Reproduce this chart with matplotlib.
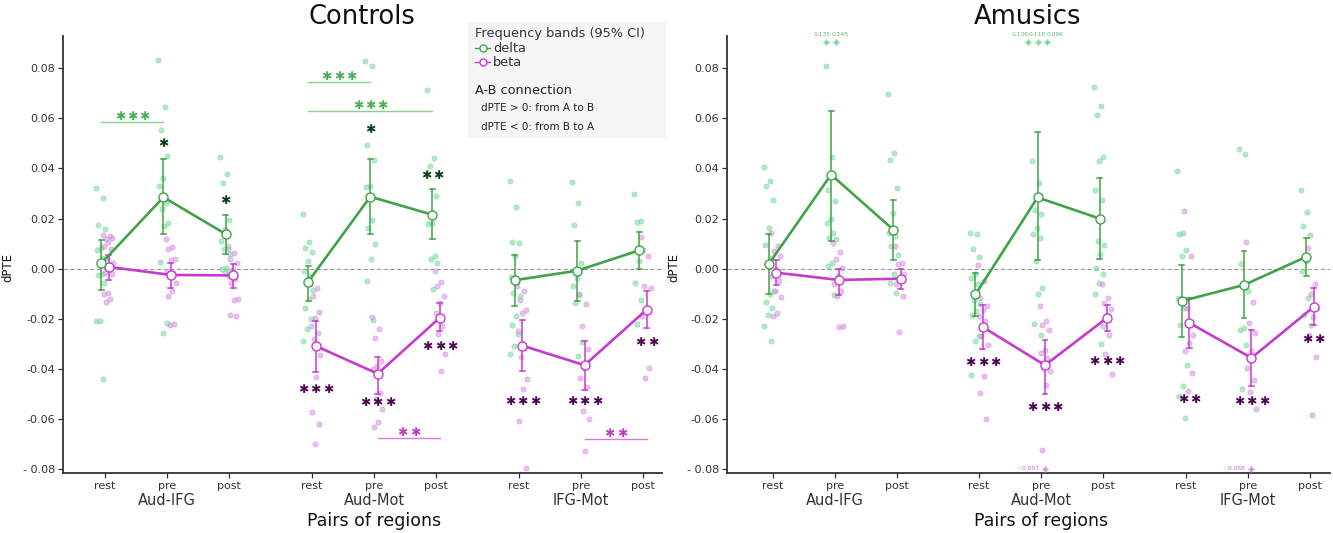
import matplotlib
matplotlib.use("Agg")
import matplotlib.pyplot as plt
from matplotlib.lines import Line2D
from matplotlib.patches import Rectangle

# ---------------- data ----------------
pairs = ["Aud-IFG", "Aud-Mot", "IFG-Mot"]
conditions = ["rest", "pre", "post"]
panel_titles = ["Controls", "Amusics"]
ytick_values = [-0.08, -0.06, -0.04, -0.02, 0.00, 0.02, 0.04, 0.06, 0.08]
ytick_labels = ["- 0.08", "-0.06", "-0.04", "-0.02", "0.00", "0.02", "0.04", "0.06", "0.08"]

# Controls: means and 95% CI (order: Aud-IFG rest/pre/post, Aud-Mot ..., IFG-Mot ...)
ctrl_delta_mean = [0.0021, 0.0285, 0.0138, -0.0053, 0.0287, 0.0215, -0.0046, -0.0008, 0.0073]
ctrl_delta_lo = [-0.0085, 0.0139, 0.0058, -0.0129, 0.0139, 0.0117, -0.0150, -0.0127, 0.0000]
ctrl_delta_hi = [0.0115, 0.0438, 0.0215, 0.0011, 0.0438, 0.0318, 0.0054, 0.0111, 0.0145]
ctrl_beta_mean = [0.0007, -0.0025, -0.0027, -0.0308, -0.0419, -0.0195, -0.0307, -0.0385, -0.0163]
ctrl_beta_lo = [-0.0045, -0.0076, -0.0076, -0.0414, -0.0498, -0.0248, -0.0409, -0.0482, -0.0236]
ctrl_beta_hi = [0.0053, 0.0024, 0.0020, -0.0208, -0.0352, -0.0135, -0.0203, -0.0287, -0.0090]

ctrl_delta_pts = [
    [0.032, 0.028, 0.0176, 0.016, 0.0084, 0.0073, 0.0044, 0.0024, 0.0005, -0.0023, -0.0025, -0.0058, -0.0208, -0.0209, -0.044],
    [0.0833, 0.0644, 0.0555, 0.0449, 0.0362, 0.0329, 0.026, 0.0236, 0.0183, 0.017, 0.0027, -0.0215, -0.0255],
    [0.0446, 0.0376, 0.0342, 0.0196, 0.0157, 0.011, 0.009, 0.0077, 0.0057, 0.0004, -0.0002, -0.001, -0.0016],
    [0.022, 0.0106, 0.0084, 0.0066, 0.003, -0.001, -0.003, -0.0056, -0.0086, -0.012, -0.0155, -0.0202, -0.0239, -0.0288],
    [0.083, 0.0807, 0.0492, 0.0435, 0.0329, 0.0325, 0.0196, 0.0163, 0.0097, 0.004, -0.0049, -0.0204],
    [0.0711, 0.0443, 0.0409, 0.029, 0.0183, 0.0177, 0.005, 0.004, 0.0024, -0.008],
    [0.035, 0.0245, 0.0106, 0.0104, 0.0052, -0.0035, -0.0055, -0.0097, -0.011, -0.019, -0.0226, -0.0262, -0.0309, -0.0342],
    [0.0345, 0.0261, 0.0173, 0.0023, -0.0037, -0.007, -0.0104, -0.0137, -0.0293, -0.0349],
    [0.0299, 0.0191, 0.0188, 0.0075, 0.003, -0.0057, -0.0123, -0.0219],
]
ctrl_beta_pts = [
    [0.0134, 0.013, 0.0117, 0.0121, 0.0106, 0.009, 0.0077, 0.0044, 0.0024, 0.0004, -0.0016, -0.0023, -0.0096, -0.0102, -0.012, -0.0133],
    [0.012, 0.0088, 0.008, 0.0037, 0.0035, -0.0009, -0.0016, -0.0023, -0.0058, -0.0089, -0.0109, -0.0222, -0.0224],
    [0.008, 0.0064, 0.004, 0.0021, -0.0003, -0.003, -0.0042, -0.0056, -0.0122, -0.0125, -0.0186, -0.0188],
    [-0.0062, -0.0076, -0.0109, -0.0173, -0.0195, -0.0228, -0.0257, -0.0281, -0.0345, -0.0434, -0.0573, -0.062, -0.0699],
    [-0.0191, -0.0242, -0.0275, -0.0368, -0.0387, -0.04, -0.0494, -0.052, -0.056, -0.0613, -0.0633],
    [-0.0009, -0.0053, -0.0069, -0.0111, -0.0135, -0.0175, -0.0228, -0.026, -0.0342, -0.0407],
    [-0.0068, -0.009, -0.0126, -0.0163, -0.0176, -0.0249, -0.0316, -0.0352, -0.0439, -0.0479, -0.0608, -0.0797],
    [-0.0101, -0.0139, -0.023, -0.0322, -0.0395, -0.0435, -0.0471, -0.0568, -0.0601, -0.0727],
    [0.0125, 0.0049, -0.007, -0.0077, -0.0161, -0.019, -0.0395, -0.0435],
]

# Amusics
amus_delta_mean = [0.0020, 0.0375, 0.0156, -0.0103, 0.0284, 0.0200, -0.0129, -0.0065, 0.0047]
amus_delta_lo = [-0.0103, 0.0110, 0.0033, -0.0189, 0.0033, 0.0037, -0.0272, -0.0196, -0.0029]
amus_delta_hi = [0.0140, 0.0630, 0.0273, -0.0016, 0.0544, 0.0361, 0.0013, 0.0071, 0.0124]
amus_beta_mean = [-0.0016, -0.0045, -0.0040, -0.0233, -0.0385, -0.0196, -0.0216, -0.0356, -0.0153]
amus_beta_lo = [-0.0065, -0.0105, -0.0083, -0.0320, -0.0500, -0.0247, -0.0316, -0.0469, -0.0225]
amus_beta_hi = [0.0033, 0.0000, 0.0000, -0.0145, -0.0283, -0.0145, -0.0116, -0.0243, -0.0079]

amus_delta_pts = [
    [0.0404, 0.035, 0.033, 0.0273, 0.0164, 0.0095, 0.0044, 0.0017, -0.0089, -0.0103, -0.0133, -0.0156, -0.0183, -0.0229, -0.0287],
    [0.0807, 0.0447, 0.0313, 0.027, 0.0197, 0.0184, 0.0144, 0.0124, 0.0117, 0.0024, 0.0011, -0.0105],
    [0.0695, 0.0461, 0.0433, 0.032, 0.0224, 0.0144, 0.0131, 0.0091, 0.0053, -0.0023, -0.0056, -0.0096],
    [0.0144, 0.0137, 0.008, 0.0047, -0.0023, -0.0036, -0.0063, -0.0123, -0.014, -0.0169, -0.0183, -0.0269, -0.0287, -0.0423],
    [0.043, 0.034, 0.0233, 0.022, 0.0161, 0.014, 0.0121, 0.0031, -0.0076, -0.01, -0.022, -0.0263],
    [0.0724, 0.065, 0.0613, 0.0444, 0.0431, 0.0313, 0.0273, 0.0111, 0.0095, 0.0057, 0.0001, -0.0023, -0.0056, -0.0103, -0.03],
    [0.0388, 0.0144, 0.0137, 0.0075, 0.0051, -0.0116, -0.0156, -0.0223, -0.0385, -0.0467, -0.0507, -0.0596],
    [0.0478, 0.0456, 0.0017, -0.0089, -0.0236, -0.0243, -0.0303, -0.0479],
    [0.0315, 0.0228, 0.0171, 0.0135, 0.0031, -0.0009, -0.0116, -0.0185, -0.0223],
]
amus_beta_pts = [
    [0.0144, 0.0091, 0.0071, 0.0051, -0.0003, -0.0029, -0.0049, -0.0089, -0.0113, -0.0176, -0.0189],
    [0.0104, 0.0067, 0.004, 0.0004, -0.0029, -0.0063, -0.009, -0.011, -0.0229, -0.0233],
    [0.0091, 0.0024, 0.0017, -0.0023, -0.0043, -0.0063, -0.0109, -0.0253],
    [0.0015, -0.0049, -0.0116, -0.0149, -0.0163, -0.0189, -0.0209, -0.0269, -0.0303, -0.0429, -0.0496, -0.0599],
    [-0.0149, -0.0209, -0.0225, -0.0243, -0.0323, -0.0336, -0.0356, -0.0396, -0.0409, -0.0463, -0.0723],
    [-0.0063, -0.0116, -0.0136, -0.0159, -0.0183, -0.0229, -0.0265, -0.034, -0.042],
    [0.0231, 0.0051, -0.0156, -0.0263, -0.0296, -0.0329, -0.0416, -0.0487],
    [0.0108, -0.0132, -0.0216, -0.0256, -0.0329, -0.0396, -0.0443, -0.049, -0.056],
    [0.0084, -0.0063, -0.0103, -0.0156, -0.0193, -0.0265, -0.0353, -0.0583],
]

# out-of-range values (index of condition, band, value)
ctrl_outliers = []
amus_outliers = [(1, "delta", 0.135), (1, "delta", 0.145),
                 (4, "delta", 0.136), (4, "delta", 0.118), (4, "delta", 0.096),
                 (4, "beta", -0.097), (7, "beta", -0.088)]

# significance vs zero: (condition index, band, y, label)
ctrl_zero_stars = [(1, "delta", 0.0500, "*"), (2, "delta", 0.0270, "*"),
                   (4, "delta", 0.0555, "*"), (5, "delta", 0.0373, "**"),
                   (3, "beta", -0.0483, "***"), (4, "beta", -0.0533, "***"), (5, "beta", -0.0310, "***"),
                   (6, "beta", -0.0530, "***"), (7, "beta", -0.0530, "***"), (8, "beta", -0.0296, "**")]
amus_zero_stars = [(3, "beta", -0.0376, "***"), (4, "beta", -0.0552, "***"), (5, "beta", -0.0370, "***"),
                   (6, "beta", -0.0523, "**"), (7, "beta", -0.0530, "***"), (8, "beta", -0.0283, "**")]
# pairwise bars: (from idx, to idx, band, y, label)
ctrl_bars = [(0, 1, "delta", 0.0584, "***"), (3, 4, "delta", 0.0746, "***"), (3, 5, "delta", 0.0630, "***"),
             (4, 5, "beta", -0.0675, "**"), (7, 8, "beta", -0.0678, "**")]
amus_bars = []

# ---------------- style ----------------
DELTA_LINE = "#3fa447"
BETA_LINE = "#c63bcf"
DELTA_PT = "#74d897"
BETA_PT = "#d68fe0"
DELTA_STAR_DARK = "#0f3d16"
BETA_STAR_DARK = "#4e0555"
DELTA_BAR = "#86d38c"
DELTA_BAR_STAR = "#4caf55"
BETA_BAR = "#d77ade"
BETA_BAR_STAR = "#c03cc8"
YTOP_MARK = 0.0903
YBOT_MARK = -0.0799
STAR_STEP = 0.2

W, H = 1333, 533
fig = plt.figure(figsize=(W / 100, H / 100), dpi=100)
plt.rcParams["font.family"] = ["DejaVu Sans"]


def xpos(i):
    g, c = divmod(i, 3)
    return g * 3.325 + c


DODGE = {"delta": -0.06, "beta": 0.06}


def jitter(i):
    return ((i * 0.6180339887) % 1.0 - 0.5) * 0.17


def draw_stars(ax, xc, y, n, color):
    for k in range(n):
        ax.text(xc + (k - (n - 1) / 2) * STAR_STEP, y, "\u2731", fontsize=8.8, color=color,
                ha="center", va="center", zorder=5)


def draw_panel(ax, means, los, his, pts, outliers, zero_stars, bars, xlim):
    ax.axhline(0, color="#9a9a9a", lw=0.8, ls=(0, (4, 2)), zorder=1)
    for band, col_pt in (("delta", DELTA_PT), ("beta", BETA_PT)):
        for i in range(9):
            vals = pts[band][i]
            xs = [xpos(i) + DODGE[band] + jitter(k) for k in range(len(vals))]
            ax.scatter(xs, vals, s=14, facecolor=col_pt, edgecolor=col_pt, alpha=0.55,
                       linewidths=0.6, zorder=2)
    for band, col in (("beta", BETA_LINE), ("delta", DELTA_LINE)):
        m, lo, hi = means[band], los[band], his[band]
        for g in range(3):
            idx = [3 * g + c for c in range(3)]
            xs = [xpos(i) + DODGE[band] for i in idx]
            ys = [m[i] for i in idx]
            ax.plot(xs, ys, color=col, lw=1.9, zorder=3)
            for i, x in zip(idx, xs):
                ax.plot([x, x], [lo[i], hi[i]], color=col, lw=1.1, zorder=3)
                for yy in (lo[i], hi[i]):
                    ax.plot([x - 0.04, x + 0.04], [yy, yy], color=col, lw=1.1, zorder=3)
            ax.plot(xs, ys, ls="none", marker="o", ms=6.5, mfc="white", mec=col, mew=1.0, zorder=4)
    # out of range markers
    groups = {}
    for i, band, v in outliers:
        groups.setdefault((i, band), []).append(v)
    for (i, band), vals in groups.items():
        n = len(vals)
        for k, v in enumerate(vals):
            x = xpos(i) + DODGE[band] + (k - (n - 1) / 2) * 0.16
            y = YTOP_MARK if v > 0 else YBOT_MARK
            ax.plot([x], [y], marker="P", ms=5, color=DELTA_PT if band == "delta" else BETA_PT,
                    mec="none", zorder=3, clip_on=False)
            if v > 0:
                ax.text(x + (k - (n - 1) / 2) * 0.12, y + 0.0022, "%.3f" % v, fontsize=4.3,
                        color=DELTA_LINE, ha="center", va="bottom", alpha=0.8)
            else:
                ax.text(x - 0.1, y, "- %.3f" % abs(v), fontsize=4.3, color=BETA_LINE,
                        ha="right", va="center", alpha=0.8)
    # stars vs zero
    for i, band, y, lab in zero_stars:
        col = DELTA_STAR_DARK if band == "delta" else BETA_STAR_DARK
        draw_stars(ax, xpos(i) + DODGE[band], y, len(lab), col)
    # pairwise bars
    for a, b, band, y, lab in bars:
        col = DELTA_BAR if band == "delta" else BETA_BAR
        scol = DELTA_BAR_STAR if band == "delta" else BETA_BAR_STAR
        xa, xb = xpos(a) + DODGE[band], xpos(b) + DODGE[band]
        ax.plot([xa, xb], [y, y], color=col, lw=1.0, zorder=5)
        draw_stars(ax, (xa + xb) / 2, y + 0.0021, len(lab), scol)

    ax.set_xlim(*xlim)
    ax.set_ylim(-0.0815, 0.0928)
    ax.set_yticks(ytick_values)
    ax.set_yticklabels(ytick_labels, fontsize=8, color="#333333")
    ax.set_xticks([xpos(i) for i in range(9)])
    ax.set_xticklabels(conditions * 3, fontsize=8, color="#333333")
    ax.tick_params(axis="both", length=3.5, width=0.9, color="#333333", pad=2)
    for s in ("top", "right"):
        ax.spines[s].set_visible(False)
    for s in ("left", "bottom"):
        ax.spines[s].set_color("#333333")
        ax.spines[s].set_linewidth(1.3)
    for g, name in enumerate(pairs):
        ax.text(xpos(3 * g + 1), -0.062, name, transform=ax.get_xaxis_transform(),
                fontsize=10.5, color="#333333", ha="center", va="center")
    ax.text(xpos(4), -0.11, "Pairs of regions", transform=ax.get_xaxis_transform(),
            fontsize=12.5, color="#111111", ha="center", va="center")
    ax.set_ylabel("dPTE", fontsize=8.5, color="#111111")
    ax.patch.set_alpha(0)


ax1 = fig.add_axes([63 / W, 1 - 473 / H, 599 / W, 437 / H])
ax2 = fig.add_axes([727 / W, 1 - 473 / H, 603 / W, 437 / H])

draw_panel(ax1,
           {"delta": ctrl_delta_mean, "beta": ctrl_beta_mean},
           {"delta": ctrl_delta_lo, "beta": ctrl_beta_lo},
           {"delta": ctrl_delta_hi, "beta": ctrl_beta_hi},
           {"delta": ctrl_delta_pts, "beta": ctrl_beta_pts},
           ctrl_outliers, ctrl_zero_stars, ctrl_bars, (-0.675, 8.955))
draw_panel(ax2,
           {"delta": amus_delta_mean, "beta": amus_beta_mean},
           {"delta": amus_delta_lo, "beta": amus_beta_lo},
           {"delta": amus_delta_hi, "beta": amus_beta_hi},
           {"delta": amus_delta_pts, "beta": amus_beta_pts},
           amus_outliers, amus_zero_stars, amus_bars, (-0.736, 8.975))
ax1.yaxis.set_label_coords(-0.082, 0.47)
ax2.yaxis.set_label_coords(-0.078, 0.47)

fig.text(362 / W, 1 - 17 / H, panel_titles[0], fontsize=18.5, ha="center", va="center", color="#111111")
fig.text(1028 / W, 1 - 17 / H, panel_titles[1], fontsize=18.5, ha="center", va="center", color="#111111")

# legend box
fig.add_artist(Rectangle((468 / W, 1 - 138 / H), 198 / W, 116 / H, transform=fig.transFigure,
                         facecolor="#f5f5f5", edgecolor="none", zorder=6))
fig.text(475 / W, 1 - 33 / H, "Frequency bands (95% CI)", fontsize=9.3, color="#333333",
         ha="left", va="center", zorder=7)
for k, (lab, col) in enumerate((("delta", DELTA_LINE), ("beta", BETA_LINE))):
    yy = 1 - (48 + 14 * k) / H
    fig.add_artist(Line2D([475 / W, 490 / W], [yy, yy], transform=fig.transFigure, color=col,
                          lw=1.0, zorder=7))
    fig.add_artist(Line2D([482.5 / W], [yy], transform=fig.transFigure, ls="none", marker="o",
                          ms=5, mfc="white", mec=col, mew=1.0, zorder=8))
    fig.text(493 / W, yy, lab, fontsize=9.3, color="#333333", ha="left", va="center", zorder=7)
fig.text(475 / W, 1 - 90 / H, "A-B connection", fontsize=9.3, color="#222222", ha="left", va="center", zorder=7)
fig.text(481 / W, 1 - 108 / H, "dPTE > 0: from A to B", fontsize=7.5, color="#222222",
         ha="left", va="center", zorder=7)
fig.text(481 / W, 1 - 127 / H, "dPTE < 0: from B to A", fontsize=7.5, color="#222222",
         ha="left", va="center", zorder=7)

fig.savefig("out.png", dpi=100, facecolor="white")
